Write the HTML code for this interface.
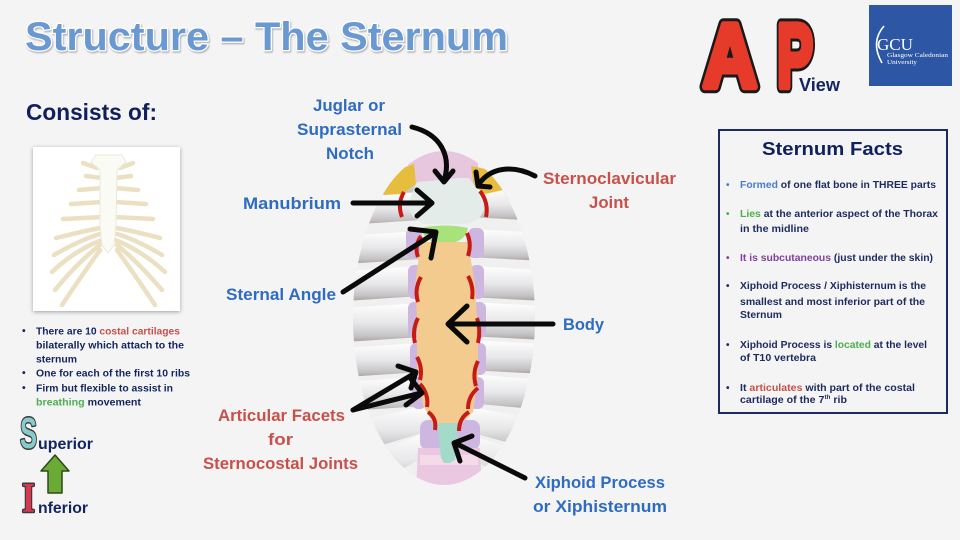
<!DOCTYPE html>
<html><head><meta charset="utf-8"><style>
html,body{margin:0;padding:0;background:#f4f4f4;}
svg{display:block}
text{font-family:"Liberation Sans",sans-serif;font-weight:bold;}
</style></head><body>
<svg width="960" height="540" viewBox="0 0 960 540" xmlns="http://www.w3.org/2000/svg">
<defs>
 <clipPath id="ell"><ellipse cx="444" cy="318" rx="91" ry="167"/></clipPath>
 <linearGradient id="rib" x1="0" y1="0" x2="0" y2="1">
  <stop offset="0" stop-color="#ffffff"/><stop offset="0.5" stop-color="#e8e8ea"/><stop offset="0.85" stop-color="#c4c2c5"/><stop offset="1" stop-color="#a9a198"/>
 </linearGradient>
 <filter id="tsh" x="-5%" y="-20%" width="110%" height="150%"><feDropShadow dx="1" dy="1.5" stdDeviation="0.8" flood-color="#8a8a8a" flood-opacity="0.6"/></filter>
 <filter id="card" x="-10%" y="-10%" width="120%" height="120%"><feDropShadow dx="0" dy="1" stdDeviation="2" flood-color="#000" flood-opacity="0.35"/></filter>
</defs>
<rect width="960" height="540" fill="#f4f4f4"/>

<!-- Title -->
<text x="25" y="50" font-size="40" fill="#6a99d2" stroke="#ffffff" stroke-width="2.5" paint-order="stroke" stroke-linejoin="round" textLength="483" lengthAdjust="spacingAndGlyphs" filter="url(#tsh)">Structure – The Sternum</text>

<!-- Consists of -->
<text x="26" y="120" font-size="23.5" fill="#10205c" textLength="131" lengthAdjust="spacingAndGlyphs">Consists of:</text>

<!-- rib cage card -->
<rect x="33" y="147" width="147" height="164" fill="#ffffff" filter="url(#card)"/>
<g stroke="#ebe0c2" stroke-width="4.5" stroke-linecap="round" fill="none">
 <path d="M83,163 L97,168"/><path d="M133,163 L120,168"/>
 <path d="M86,176 L102,178"/><path d="M131,176 L115,178"/>
 <path d="M79,190 L102,188"/><path d="M138,190 L115,188"/>
 <path d="M71,204 L102,202"/><path d="M146,204 L115,202"/>
 <path d="M63,219 L103,217"/><path d="M153,219 L114,217"/>
 <path d="M56,238 Q80,232 100,228"/><path d="M160,238 Q137,232 117,228"/>
 <path d="M54,255 Q80,240 100,234"/><path d="M162,255 Q137,240 117,234"/>
 <path d="M52,272 Q75,250 102,240"/><path d="M165,272 Q141,250 115,240"/>
 <path d="M55,290 Q78,262 100,245"/><path d="M162,290 Q138,262 117,245"/>
 <path d="M62,305 Q82,275 100,250"/><path d="M155,305 Q135,275 117,250"/>
</g>
<path d="M96,155 L122,155 L126,162 L117,170 L116,225 L114,245 L108,253 L102,245 L100,225 L100,170 L91,162 Z" fill="#fbfbf6" stroke="#eee8d6" stroke-width="1"/>

<!-- left bullets -->
<g font-size="10.5" fill="#14245e">
 <text x="22" y="334">•</text><text x="22" y="376">•</text><text x="22" y="391">•</text>
 <text x="36" y="334.5" textLength="144" lengthAdjust="spacingAndGlyphs">There are 10 <tspan fill="#c8504a">costal cartilages</tspan></text>
 <text x="36" y="348.5" textLength="148" lengthAdjust="spacingAndGlyphs">bilaterally which attach to the</text>
 <text x="36" y="362.5" textLength="41" lengthAdjust="spacingAndGlyphs">sternum</text>
 <text x="36" y="376.5" textLength="154" lengthAdjust="spacingAndGlyphs">One for each of the first 10 ribs</text>
 <text x="36" y="391.5" textLength="137" lengthAdjust="spacingAndGlyphs">Firm but flexible to assist in</text>
 <text x="36" y="405.5" textLength="105" lengthAdjust="spacingAndGlyphs"><tspan fill="#4caf50">breathing</tspan> movement</text>
</g>

<!-- Superior / Inferior -->
<text x="20" y="448" font-size="44" fill="#86cccb" stroke="#3a3a3a" stroke-width="3" paint-order="stroke" stroke-linejoin="round" textLength="17" lengthAdjust="spacingAndGlyphs">S</text>
<text x="38" y="449" font-size="16" fill="#14245e" textLength="55" lengthAdjust="spacingAndGlyphs">uperior</text>
<polygon points="55,455 69,471 62,471 62,493 48,493 48,471 41,471" fill="#6aaa35" stroke="#2b4a1a" stroke-width="1.5" stroke-linejoin="round"/>
<text x="22" y="512" font-size="42" fill="#d6394f" stroke="#3a3a3a" stroke-width="3" paint-order="stroke" stroke-linejoin="round" style="font-family:'Liberation Serif',serif" textLength="13" lengthAdjust="spacingAndGlyphs">I</text>
<text x="38" y="513" font-size="16" fill="#14245e" textLength="50" lengthAdjust="spacingAndGlyphs">nferior</text>

<!-- Central illustration -->
<g clip-path="url(#ell)">
 <rect x="340" y="140" width="210" height="360" fill="#f1f0f1"/>
 <polygon points="350,150 540,150 540,200 350,200" fill="url(#rib)"/>
 <g fill="url(#rib)">
  <polygon points="345,196 422,192 422,220 345,225"/>
  <polygon points="345,236 422,231 422,259 345,264"/>
  <polygon points="345,271 422,266 422,296 345,301"/>
  <polygon points="345,308 422,303 422,337 345,342"/>
  <polygon points="345,348 422,343 422,372 345,377"/>
  <polygon points="345,382 422,377 424,406 345,411"/>
  <polygon points="345,425 426,405 432,430 350,455"/>
  <polygon points="355,462 430,430 436,450 365,490"/>
  <polygon points="468,188 545,192 545,221 468,217"/>
  <polygon points="468,229 545,233 545,261 468,257"/>
  <polygon points="468,266 545,270 545,301 468,297"/>
  <polygon points="468,302 545,306 545,340 468,336"/>
  <polygon points="468,340 545,344 545,374 468,370"/>
  <polygon points="468,374 545,380 545,410 468,403"/>
  <polygon points="466,406 540,420 535,450 462,430"/>
  <polygon points="462,432 530,455 520,485 458,452"/>
 </g>
 <g fill="#cdb7e0">
  <rect x="406" y="228" width="16" height="30" rx="6"/>
  <rect x="408" y="265" width="14" height="34" rx="6"/>
  <rect x="408" y="302" width="14" height="36" rx="6"/>
  <rect x="410" y="343" width="14" height="32" rx="6"/>
  <rect x="412" y="377" width="14" height="32" rx="6"/>
  <rect x="468" y="228" width="16" height="30" rx="6"/>
  <rect x="470" y="265" width="14" height="34" rx="6"/>
  <rect x="472" y="302" width="14" height="36" rx="6"/>
  <rect x="472" y="343" width="14" height="32" rx="6"/>
  <rect x="470" y="377" width="14" height="32" rx="6"/>
  <rect x="420" y="420" width="60" height="30" rx="8"/>
 </g>
 <polygon points="408,150 478,150 478,186 408,186" fill="#e6c7dd"/>
 <polygon points="383,195 397,170 414,164 416,184 402,194" fill="#e6bd3c"/>
 <polygon points="471,166 490,170 503,190 485,194 474,186" fill="#e6bd3c"/>
 <polygon points="418,448 480,448 482,490 416,490" fill="#ebc8e2"/>
 <rect x="420" y="455" width="58" height="10" fill="#f5dbe9"/>
 <path d="M417,182 L440,180 L457,178 L469,178 L478,190 L484,210 L479,219 L467,224 L423,224 L413,217 L408,207 L412,193 Z" fill="#e3ece8"/>
 <path d="M421,228 Q444,223 468,228 Q466,242 446,244 Q424,243 421,228 Z" fill="#a8e27a"/>
 <path d="M421,242 L468,242 L475,285 L478,335 L478,375 L473,412 L460,425 L434,425 L423,405 L417,368 L417,318 L415,285 Z" fill="#f3cb8f"/>
 <path d="M437,423 L459,423 L455,460 L450,463 L444,463 L441,458 Z" fill="#a3dac9"/>
 <g stroke="#c51a16" stroke-width="4" fill="none" stroke-linecap="butt">
  <path d="M404,192 Q397,204 402,217"/>
  <path d="M421,236 Q414,246 418,257"/>
  <path d="M421,277 Q414,289 418,302"/>
  <path d="M418,318 Q412,330 415,343"/>
  <path d="M417,357 Q423,368 420,380"/>
  <path d="M420,384 Q429,394 427,407"/>
  <path d="M428,412 Q437,418 435,430"/>
  <path d="M480,191 Q489,203 486,217"/>
  <path d="M467,233 Q472,244 468,256"/>
  <path d="M468,276 Q474,287 472,299"/>
  <path d="M477,318 Q481,330 478,343"/>
  <path d="M478,361 Q472,373 476,386"/>
  <path d="M478,388 Q468,396 468,409"/>
  <path d="M469,412 Q459,418 459,431"/>
 </g>
</g>

<!-- Arrows -->
<g stroke="#0a0a0a" stroke-width="5" fill="none" stroke-linecap="round" stroke-linejoin="round">
 <path d="M412,127 C440,134 452,155 444,181"/>
 <path d="M435,171 L444,182 L453,171"/>
 <path d="M535,176 C512,164 490,168 479,184"/>
 <path d="M476,172 L478,186 L490,187"/>
 <path d="M353,203 L431,203"/>
 <path d="M417,190 L432,203 L417,216"/>
 <path d="M343,292 L435,233"/>
 <path d="M410,229 L436,232 L431,258"/>
 <path d="M553,324 L449,324"/>
 <path d="M467,306 L448,324 L467,342"/>
 <path d="M353,410 L415,373"/>
 <path d="M398,366 L416,372 L411,388"/>
 <path d="M353,410 L421,393"/>
 <path d="M411,379 L422,393 L406,405"/>
 <path d="M525,478 L455,443"/>
 <path d="M472,436 L454,443 L460,461"/>
</g>

<!-- Labels -->
<g font-size="17">
 <g fill="#2f6cc0">
  <text x="313" y="111" textLength="72" lengthAdjust="spacingAndGlyphs">Juglar or</text>
  <text x="297" y="135" textLength="105" lengthAdjust="spacingAndGlyphs">Suprasternal</text>
  <text x="326" y="159" textLength="48" lengthAdjust="spacingAndGlyphs">Notch</text>
  <text x="243" y="209" textLength="98" lengthAdjust="spacingAndGlyphs">Manubrium</text>
  <text x="226" y="300" textLength="110" lengthAdjust="spacingAndGlyphs">Sternal Angle</text>
  <text x="563" y="330" textLength="41" lengthAdjust="spacingAndGlyphs">Body</text>
  <text x="535" y="488" textLength="130" lengthAdjust="spacingAndGlyphs">Xiphoid Process</text>
  <text x="533" y="512" textLength="134" lengthAdjust="spacingAndGlyphs">or Xiphisternum</text>
 </g>
 <g fill="#c8504a">
  <text x="543" y="184" textLength="133" lengthAdjust="spacingAndGlyphs">Sternoclavicular</text>
  <text x="589" y="208" textLength="40" lengthAdjust="spacingAndGlyphs">Joint</text>
  <text x="218" y="421" textLength="127" lengthAdjust="spacingAndGlyphs">Articular Facets</text>
  <text x="268" y="445" textLength="25" lengthAdjust="spacingAndGlyphs">for</text>
  <text x="203" y="469" textLength="155" lengthAdjust="spacingAndGlyphs">Sternocostal Joints</text>
 </g>
</g>

<!-- AP View logo -->
<g font-size="90" stroke-linejoin="round" stroke-linecap="round">
 <text x="703" y="87" textLength="54" lengthAdjust="spacingAndGlyphs" fill="#1a1a1a" stroke="#1a1a1a" stroke-width="13">A</text>
 <text x="777" y="87" textLength="36" lengthAdjust="spacingAndGlyphs" fill="#1a1a1a" stroke="#1a1a1a" stroke-width="13">P</text>
 <text x="703" y="87" textLength="54" lengthAdjust="spacingAndGlyphs" fill="#e63a2a" stroke="#e63a2a" stroke-width="7">A</text>
 <text x="777" y="87" textLength="36" lengthAdjust="spacingAndGlyphs" fill="#e63a2a" stroke="#e63a2a" stroke-width="7">P</text>
</g>
<text x="799" y="91" font-size="18" fill="#14245e" textLength="41" lengthAdjust="spacingAndGlyphs">View</text>

<!-- GCU logo -->
<rect x="869" y="5" width="83" height="81" fill="#2d56a4"/>
<path d="M884,26 Q870,42 882,63" stroke="#ffffff" stroke-width="1.6" fill="none"/>
<text x="877" y="50" font-size="17" fill="#ffffff" style="font-family:'Liberation Serif',serif;font-weight:normal" textLength="36" lengthAdjust="spacingAndGlyphs">GCU</text>
<text x="887" y="57" font-size="6" fill="#ffffff" style="font-family:'Liberation Serif',serif;font-weight:normal" textLength="61" lengthAdjust="spacingAndGlyphs">Glasgow Caledonian</text>
<text x="887" y="64" font-size="6" fill="#ffffff" style="font-family:'Liberation Serif',serif;font-weight:normal" textLength="30" lengthAdjust="spacingAndGlyphs">University</text>

<!-- Sternum Facts box -->
<rect x="719" y="130" width="228" height="283" fill="#f4f4f4" stroke="#1c2a5e" stroke-width="2"/>
<text x="762" y="155" font-size="18" fill="#10205c" textLength="141" lengthAdjust="spacingAndGlyphs">Sternum Facts</text>
<g font-size="10" fill="#1c2a5e">
 <text x="726" y="188" fill="#4a7cc9">•</text>
 <text x="726" y="217" fill="#4caf50">•</text>
 <text x="726" y="261" fill="#8040a0">•</text>
 <text x="726" y="289">•</text>
 <text x="726" y="348">•</text>
 <text x="726" y="391">•</text>
 <text x="740" y="188" textLength="196" lengthAdjust="spacingAndGlyphs"><tspan fill="#4a7cc9">Formed</tspan> of one flat bone in THREE parts</text>
 <text x="740" y="217" textLength="198" lengthAdjust="spacingAndGlyphs"><tspan fill="#4caf50">Lies</tspan> at the anterior aspect of the Thorax</text>
 <text x="740" y="232" textLength="69" lengthAdjust="spacingAndGlyphs">in the midline</text>
 <text x="740" y="261" textLength="193" lengthAdjust="spacingAndGlyphs"><tspan fill="#8040a0">It is subcutaneous</tspan> (just under the skin)</text>
 <text x="740" y="289" textLength="186" lengthAdjust="spacingAndGlyphs">Xiphoid Process / Xiphisternum is the</text>
 <text x="740" y="305" textLength="185" lengthAdjust="spacingAndGlyphs">smallest and most inferior part of the</text>
 <text x="740" y="318" textLength="42" lengthAdjust="spacingAndGlyphs">Sternum</text>
 <text x="740" y="348" textLength="187" lengthAdjust="spacingAndGlyphs">Xiphoid Process is <tspan fill="#4caf50">located</tspan> at the level</text>
 <text x="740" y="361" textLength="76" lengthAdjust="spacingAndGlyphs">of T10 vertebra</text>
 <text x="740" y="391" textLength="175" lengthAdjust="spacingAndGlyphs">It <tspan fill="#c8504a">articulates</tspan> with part of the costal</text>
 <text x="740" y="403" textLength="107" lengthAdjust="spacingAndGlyphs">cartilage of the 7<tspan font-size="6" dy="-4">th</tspan><tspan dy="4"> rib</tspan></text>
</g>
</svg>
</body></html>
